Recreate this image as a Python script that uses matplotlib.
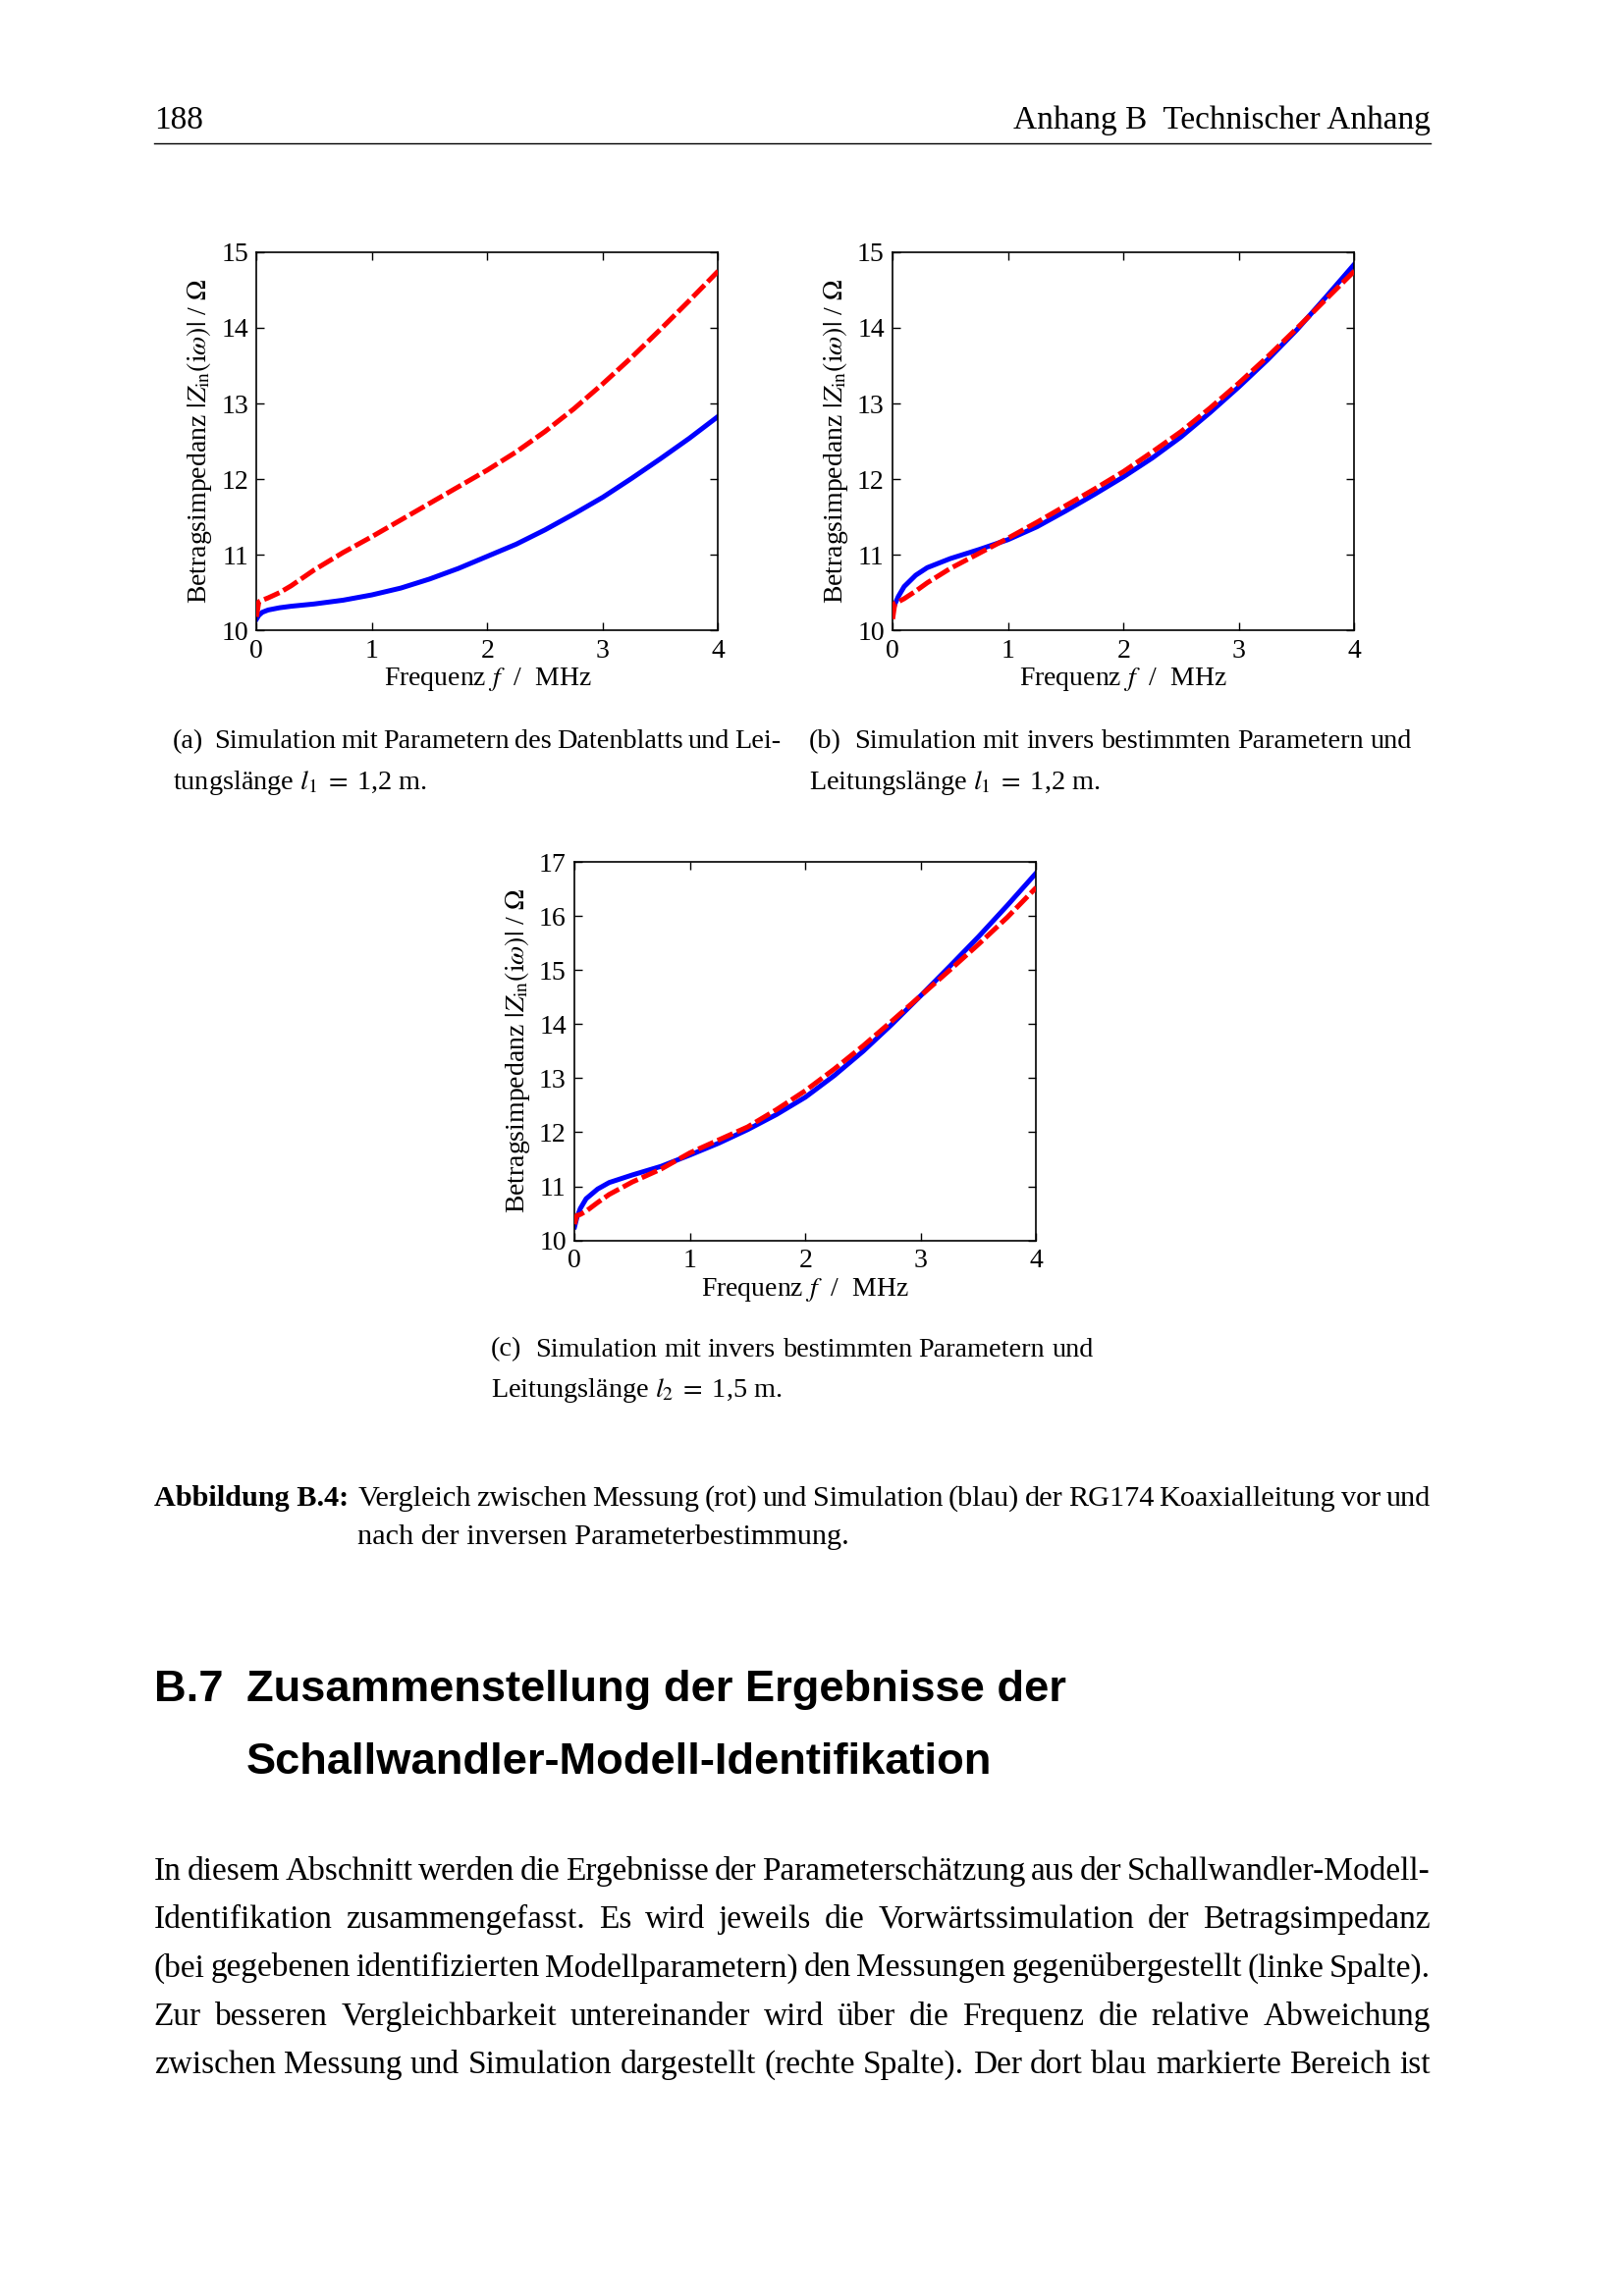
import matplotlib
matplotlib.use("Agg")
import matplotlib.pyplot as plt
from matplotlib.lines import Line2D

plt.rcParams['font.family'] = ['Liberation Serif', 'DejaVu Serif']
plt.rcParams['mathtext.fontset'] = 'stix'

# ---- data (frequency in MHz, |Z| in Ohm) ----
freq = [0, 0.02, 0.05, 0.1, 0.2, 0.3, 0.5, 0.75, 1, 1.25, 1.5, 1.75,
        2, 2.25, 2.5, 2.75, 3, 3.25, 3.5, 3.75, 4]

# (a) datasheet parameters, l1 = 1.2 m
sim_a = [10.15, 10.2, 10.24, 10.27, 10.3, 10.32, 10.35, 10.4, 10.47, 10.56, 10.68,
         10.82, 10.98, 11.14, 11.33, 11.54, 11.76, 12.01, 12.27, 12.54, 12.83]
meas_a = [10.18, 10.38, 10.4, 10.43, 10.5, 10.59, 10.8, 11.03, 11.24, 11.46, 11.68,
          11.9, 12.12, 12.36, 12.63, 12.93, 13.26, 13.61, 13.98, 14.36, 14.75]

# (b) inverse parameters, l1 = 1.2 m
sim_b = [10.25, 10.35, 10.45, 10.58, 10.73, 10.83, 10.95, 11.07, 11.2, 11.37, 11.58,
         11.8, 12.03, 12.28, 12.56, 12.88, 13.22, 13.58, 13.97, 14.4, 14.84]
meas_b = [10.15, 10.36, 10.38, 10.42, 10.52, 10.63, 10.82, 11.02, 11.22, 11.43, 11.65,
          11.87, 12.1, 12.36, 12.63, 12.94, 13.27, 13.62, 13.99, 14.37, 14.75]

# (c) inverse parameters, l2 = 1.5 m
sim_c = [10.25, 10.42, 10.59, 10.77, 10.95, 11.07, 11.21, 11.37, 11.58, 11.8, 12.05,
         12.33, 12.65, 13.05, 13.5, 14.0, 14.53, 15.07, 15.62, 16.2, 16.8]
meas_c = [10.3, 10.46, 10.48, 10.54, 10.7, 10.85, 11.08, 11.32, 11.62, 11.86, 12.1,
          12.42, 12.77, 13.17, 13.6, 14.06, 14.53, 15.0, 15.48, 15.98, 16.53]

xticks = [0, 1, 2, 3, 4]
yticks_ab = [10, 11, 12, 13, 14, 15]
yticks_c = [10, 11, 12, 13, 14, 15, 16, 17]

body_lines = [
    "In diesem Abschnitt werden die Ergebnisse der Parameterschätzung aus der Schallwandler-Modell-",
    "Identifikation zusammengefasst. Es wird jeweils die Vorwärtssimulation der Betragsimpedanz",
    "(bei gegebenen identifizierten Modellparametern) den Messungen gegenübergestellt (linke Spalte).",
    "Zur besseren Vergleichbarkeit untereinander wird über die Frequenz die relative Abweichung",
    "zwischen Messung und Simulation dargestellt (rechte Spalte). Der dort blau markierte Bereich ist",
]

# page geometry measured on the reference preview grid
PW, PH = 1108.0, 1566.0
fig = plt.figure(figsize=(8.27, 11.695), dpi=200)
renderer = fig.canvas.get_renderer()


def fx(x):
    return x / PW


def fy(y):
    return 1 - y / PH


def justify(words, x0, x1, y, **kw):
    items = [fig.text(0, fy(y), w, va='baseline', **kw) for w in words]
    widths = [t.get_window_extent(renderer=renderer).width / fig.bbox.width for t in items]
    gap = (fx(x1) - fx(x0) - sum(widths)) / max(len(words) - 1, 1)
    x = fx(x0)
    for t, w in zip(items, widths):
        t.set_x(x)
        x += w + gap


def impedance_axes(left, top, sim, meas, yticks):
    ax = fig.add_axes([fx(left), fy(top + 258), fx(315), 258 / PH])
    ax.plot(freq, sim, color='b', lw=1.8, zorder=2)
    ax.plot(freq, meas, color='r', lw=1.8, linestyle=(0, (3.4, 0.9)), zorder=3)
    ax.set_xlim(0, 4)
    ax.set_ylim(yticks[0], yticks[-1])
    ax.set_xticks(xticks)
    ax.set_yticks(yticks)
    ax.tick_params(direction='in', top=True, right=True, length=3, width=0.5,
                   labelsize=10, pad=3)
    for s in ax.spines.values():
        s.set_linewidth(0.6)
    ax.set_xlabel(r"Frequenz $f$  /  MHz", fontsize=10, labelpad=1)
    ax.set_ylabel(r"Betragsimpedanz $|Z_\mathrm{in}(\mathrm{i}\omega)|$ / $\Omega$",
                  fontsize=10, labelpad=2.5)
    return ax


impedance_axes(175, 172, sim_a, meas_a, yticks_ab)
impedance_axes(609, 172, sim_b, meas_b, yticks_ab)
impedance_axes(392, 588, sim_c, meas_c, yticks_c)

# header
fig.text(fx(105), fy(88), "188", fontsize=12, va='baseline')
fig.text(fx(976), fy(88), "Anhang B  Technischer Anhang", fontsize=12, va='baseline', ha='right')
fig.add_artist(Line2D([fx(105), fx(976)], [fy(98), fy(98)], color='k', lw=0.5))

# sub captions
ckw = dict(fontsize=10.2)
justify("(a)  Simulation mit Parametern des Datenblatts und Lei-".split(' '), 118, 533, 510, **ckw)
fig.text(fx(118), fy(538), r"tungslänge $l_1\;=\;$1,2 m.", va='baseline', **ckw)
justify("(b)  Simulation mit invers bestimmten Parametern und".split(' '), 552, 963, 510, **ckw)
fig.text(fx(552), fy(538), r"Leitungslänge $l_1\;=\;$1,2 m.", va='baseline', **ckw)
justify("(c)  Simulation mit invers bestimmten Parametern und".split(' '), 335, 746, 925, **ckw)
fig.text(fx(335), fy(953), r"Leitungslänge $l_2\;=\;$1,5 m.", va='baseline', **ckw)

# figure caption
fkw = dict(fontsize=10.9)
fig.text(fx(105), fy(1027), "Abbildung B.4:", fontweight='bold', va='baseline', **fkw)
justify("Vergleich zwischen Messung (rot) und Simulation (blau) der RG174 Koaxialleitung vor und".split(),
        244, 976, 1027, **fkw)
fig.text(fx(244), fy(1053), "nach der inversen Parameterbestimmung.", va='baseline', **fkw)

# section heading
hkw = dict(fontsize=16.3, fontweight='bold', family='Liberation Sans', va='baseline')
fig.text(fx(105), fy(1160), "B.7", **hkw)
fig.text(fx(168), fy(1160), "Zusammenstellung der Ergebnisse der", **hkw)
fig.text(fx(168), fy(1210), "Schallwandler-Modell-Identifikation", **hkw)

# body text
for i, line in enumerate(body_lines):
    justify(line.split(), 105, 976, 1282 + 33 * i, fontsize=12)

fig.savefig("out.png", dpi=200, facecolor='white')
